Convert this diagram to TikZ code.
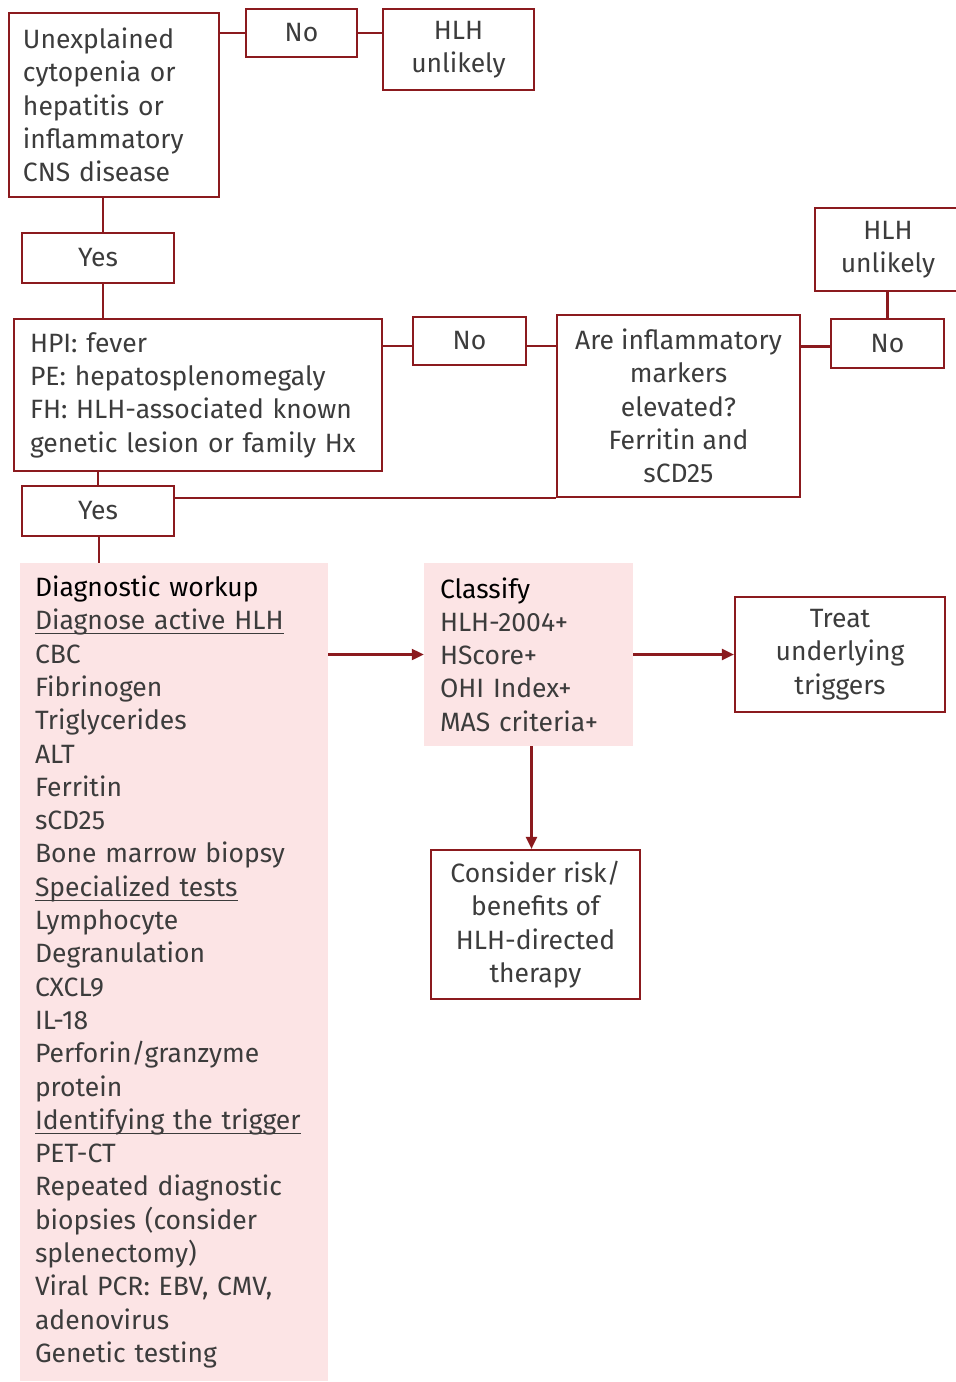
\documentclass[tikz,border=0pt]{standalone}
\usepackage{fontspec}
\setmainfont{Fira Sans}
\usetikzlibrary{arrows.meta}
\definecolor{hlhred}{RGB}{139,26,30}
\definecolor{hlhpink}{RGB}{252,228,229}
\definecolor{hlhtext}{RGB}{60,60,60}
\newcommand{\ulitem}[1]{\leavevmode\setbox0\hbox{#1}\rlap{\textcolor{hlhtext}{\rule[-4.5pt]{\wd0}{1.2pt}}}\box0}
\newcommand{\headitem}[1]{\textcolor{black}{#1}}
\begin{document}
\begin{tikzpicture}[
      x=1pt, y=-1pt,
      font=\fontsize{26.5}{33.3}\selectfont, text=hlhtext,
      box/.style={draw=hlhred, line width=2.2pt, inner sep=0pt, align=center},
      leftbox/.style={box, align=left},
      pinkbox/.style={fill=hlhpink, inner sep=0pt, align=left},
      conn/.style={draw=hlhred, line width=2.2pt},
      arr/.style={conn, -{Triangle[length=12pt, width=11pt]}}
    ]
      \useasboundingbox (0,0) rectangle (956,1382);
      % first question
      \node[leftbox, text width=182pt, inner xsep=14pt, minimum height=184pt] (crit) at (114,105) {Unexplained\\ cytopenia or\\ hepatitis or\\ inflammatory\\ CNS disease};
      \node[box, minimum width=111pt, minimum height=48pt] (no1) at (301.5,33) {No};
      \node[box, minimum width=151pt, minimum height=81pt] (unl1) at (458.5,49.5) {HLH\\ unlikely};
      \node[box, minimum width=152pt, minimum height=50pt] (yes1) at (98,258) {Yes};
      % second question
      \node[leftbox, text width=336pt, inner xsep=16pt, minimum height=152pt] (hpi) at (198,395) {HPI: fever\\ PE: hepatosplenomegaly\\ FH: HLH-associated known\\ genetic lesion or family Hx};
      \node[box, minimum width=113pt, minimum height=48pt] (no2) at (469.5,341) {No};
      \node[box, minimum width=243pt, minimum height=182pt] (infl) at (678.5,406) {Are inflammatory\\ markers\\ elevated?\\ Ferritin and\\ sCD25};
      \node[box, minimum width=113pt, minimum height=49pt] (no3) at (887.5,343.5) {No};
      \node[box, minimum width=146pt, minimum height=83pt] (unl2) at (888,249.5) {HLH\\ unlikely};
      \node[box, minimum width=152pt, minimum height=50pt] (yes2) at (98,511) {Yes};
      % workup and classification
      \node[pinkbox, text width=278pt, inner xsep=15pt, minimum height=818pt] (diag) at (174,972) {\headitem{Diagnostic workup}\\ \ulitem{Diagnose active HLH}\\ CBC\\ Fibrinogen\\ Triglycerides\\ ALT\\ Ferritin\\ sCD25\\ Bone marrow biopsy\\ \ulitem{Specialized tests}\\ Lymphocyte\\ Degranulation\\ CXCL9\\ IL-18\\ Perforin/granzyme\\ protein\\ \ulitem{Identifying the trigger}\\ PET-CT\\ Repeated diagnostic\\ biopsies (consider\\ splenectomy)\\ Viral PCR: EBV, CMV,\\ adenovirus\\ Genetic testing};
      \node[pinkbox, text width=177pt, inner xsep=16pt, minimum height=183pt] (cls) at (528.5,654.5) {\headitem{Classify}\\ HLH-2004+\\ HScore+\\ OHI Index+\\ MAS criteria+};
      \node[box, minimum width=210pt, minimum height=115pt] (treat) at (840,654.5) {Treat\\ underlying\\ triggers};
      \node[box, minimum width=209pt, minimum height=149pt] (cons) at (535.5,924.5) {Consider risk/\\ benefits of\\ HLH-directed\\ therapy};
      % connectors
      \draw[conn] (no1.west -| crit.east) -- (no1.west);
      \draw[conn] (no1.east) -- (no1.east -| unl1.west);
      \draw[conn] ([xshift=5pt]yes1.north) -- ([xshift=5pt]yes1.north |- crit.south);
      \draw[conn] ([xshift=5pt]yes1.south) -- ([xshift=5pt]yes1.south |- hpi.north);
      \draw[conn] ([yshift=-5pt]no2.west) -- ([yshift=-5pt]no2.west -| hpi.east);
      \draw[conn] ([yshift=-5pt]no2.east) -- ([yshift=-5pt]no2.east -| infl.west);
      \draw[conn] ([yshift=-3pt]no3.west) -- ([yshift=-3pt]no3.west -| infl.east);
      \draw[conn] (no3.north) -- (no3.north |- unl2.south);
      \draw[conn] (yes2.north) -- (yes2.north |- hpi.south);
      \draw[conn, line width=1.4pt] (infl.south west) -- (infl.south west -| yes2.east);
      \draw[conn] ([xshift=1pt]yes2.south) -- ([xshift=1pt]yes2.south |- diag.north);
      \draw[arr] (cls.west -| diag.east) -- (cls.west);
      \draw[arr] (cls.east) -- (treat.west);
      \draw[arr] ([xshift=3pt]cls.south) -- ([xshift=3pt]cls.south |- cons.north);
    \end{tikzpicture}
\end{document}
